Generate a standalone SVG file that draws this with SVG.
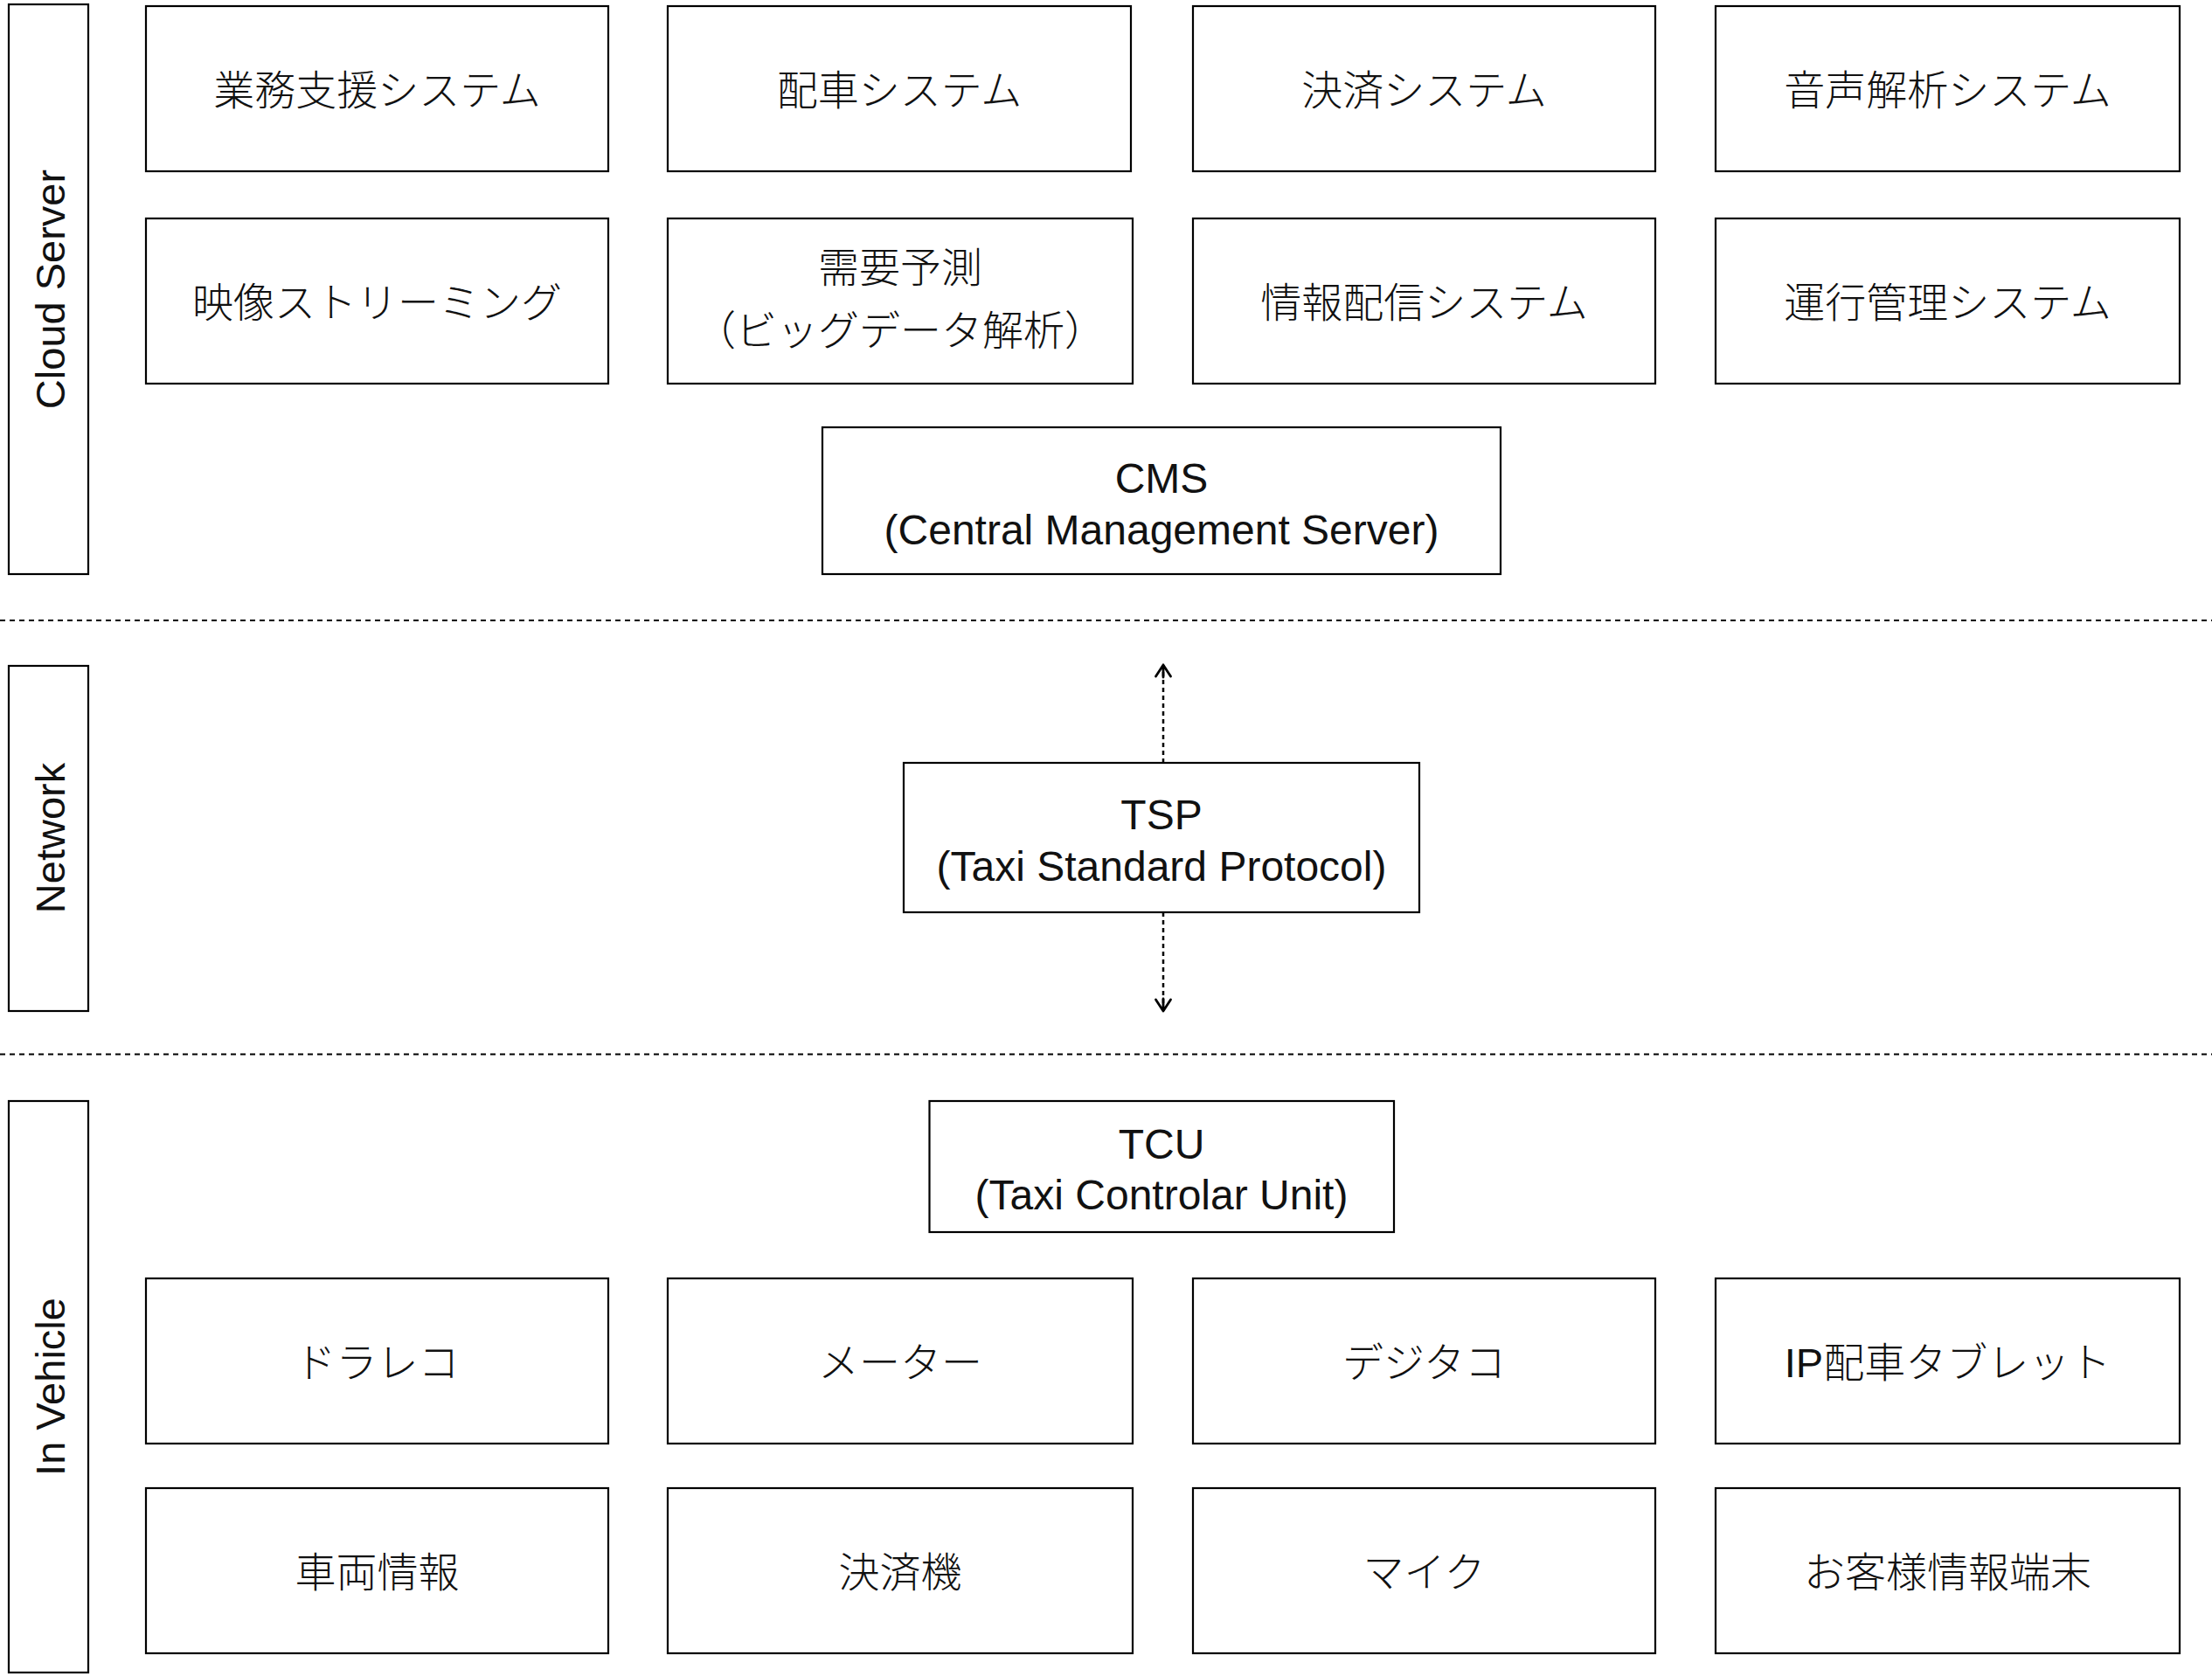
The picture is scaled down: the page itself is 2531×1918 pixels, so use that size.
<svg xmlns="http://www.w3.org/2000/svg" width="2531" height="1918" viewBox="0 0 2531 1918">
<style>
.box{fill:#fff;stroke:#000;stroke-width:2.2}
.t{font-family:"Liberation Sans","Noto Sans CJK JP",sans-serif;font-size:48px;fill:#111;text-anchor:middle}
.j{font-family:"Liberation Sans","Noto Sans CJK JP",sans-serif;font-size:47px;font-weight:300;fill:#111;text-anchor:middle}
.lane{font-family:"Liberation Sans",sans-serif;font-size:47px;fill:#111;text-anchor:middle}
.sep{stroke:#000;stroke-width:2;stroke-dasharray:6 5;fill:none}
.conn{stroke:#000;stroke-width:2.5;stroke-dasharray:5 4;fill:none}
</style>
<defs>
<marker id="chev" viewBox="-16 -11 18 22" markerWidth="18" markerHeight="22" refX="0" refY="0" orient="auto" markerUnits="userSpaceOnUse">
<path d="M-13,-8.5 L0,0 L-13,8.5 M0,0 L-14,0" fill="none" stroke="#000" stroke-width="2.8" stroke-linecap="round" stroke-linejoin="round"/>
</marker>
</defs>
<rect width="2531" height="1918" fill="#fff"/>

<g id="lane-cloud"><rect class="box" x="10" y="5" width="91" height="652"/><text class="lane" transform="translate(74,331) rotate(-90)">Cloud Server</text></g>
<g id="lane-network"><rect class="box" x="10" y="762" width="91" height="395"/><text class="lane" transform="translate(74,959) rotate(-90)">Network</text></g>
<g id="lane-vehicle"><rect class="box" x="10" y="1260" width="91" height="654"/><text class="lane" transform="translate(74,1587) rotate(-90)">In Vehicle</text></g>

<g id="separators">
<line class="sep" x1="0" y1="710" x2="2531" y2="710"/>
<line class="sep" x1="0" y1="1206.5" x2="2531" y2="1206.5"/>
</g>

<g id="n-gyomu"><rect class="box" x="167" y="7" width="529" height="189"/><text class="j" x="431.5" y="120">業務支援システム</text></g>
<g id="n-haisha"><rect class="box" x="764" y="7" width="530" height="189"/><text class="j" x="1029" y="120">配車システム</text></g>
<g id="n-kessai"><rect class="box" x="1365" y="7" width="529" height="189"/><text class="j" x="1629.5" y="120">決済システム</text></g>
<g id="n-onsei"><rect class="box" x="1963" y="7" width="531" height="189"/><text class="j" x="2228.5" y="120">音声解析システム</text></g>

<g id="n-eizo"><rect class="box" x="167" y="250" width="529" height="189"/><text class="j" x="431.5" y="363">映像ストリーミング</text></g>
<g id="n-juyo"><rect class="box" x="764" y="250" width="532" height="189"/><text class="j" x="1030" y="323">需要予測</text><text class="j" x="1030" y="395">（ビッグデータ解析）</text></g>
<g id="n-joho"><rect class="box" x="1365" y="250" width="529" height="189"/><text class="j" x="1629.5" y="363">情報配信システム</text></g>
<g id="n-unko"><rect class="box" x="1963" y="250" width="531" height="189"/><text class="j" x="2228.5" y="363">運行管理システム</text></g>

<g id="n-cms"><rect class="box" x="941" y="489" width="776" height="168"/><text class="t" x="1329" y="563.5">CMS</text><text class="t" x="1329" y="623">(Central Management Server)</text></g>

<g id="n-tsp"><rect class="box" x="1034" y="873" width="590" height="171"/><text class="t" x="1329" y="948.5">TSP</text><text class="t" x="1329" y="1007.5">(Taxi Standard Protocol)</text></g>

<g id="n-tcu"><rect class="box" x="1063.5" y="1260" width="531.5" height="150"/><text class="t" x="1329" y="1326">TCU</text><text class="t" x="1329" y="1384">(Taxi Controlar Unit)</text></g>

<g id="n-dorareko"><rect class="box" x="167" y="1463" width="529" height="189"/><text class="j" x="431.5" y="1576">ドラレコ</text></g>
<g id="n-meter"><rect class="box" x="764" y="1463" width="532" height="189"/><text class="j" x="1030" y="1576">メーター</text></g>
<g id="n-dejitako"><rect class="box" x="1365" y="1463" width="529" height="189"/><text class="j" x="1629.5" y="1576">デジタコ</text></g>
<g id="n-ip"><rect class="box" x="1963" y="1463" width="531" height="189"/><text class="j" x="2228.5" y="1576">IP配車タブレット</text></g>

<g id="n-sharyo"><rect class="box" x="167" y="1703" width="529" height="189"/><text class="j" x="431.5" y="1816">車両情報</text></g>
<g id="n-kessaiki"><rect class="box" x="764" y="1703" width="532" height="189"/><text class="j" x="1030" y="1816">決済機</text></g>
<g id="n-mic"><rect class="box" x="1365" y="1703" width="529" height="189"/><text class="j" x="1629.5" y="1816">マイク</text></g>
<g id="n-okyaku"><rect class="box" x="1963" y="1703" width="531" height="189"/><text class="j" x="2228.5" y="1816">お客様情報端末</text></g>

<g id="connectors">
<line class="conn" x1="1331" y1="873" x2="1331" y2="761" marker-end="url(#chev)"/>
<line class="conn" x1="1331" y1="1044" x2="1331" y2="1157" marker-end="url(#chev)"/>
</g>
</svg>
